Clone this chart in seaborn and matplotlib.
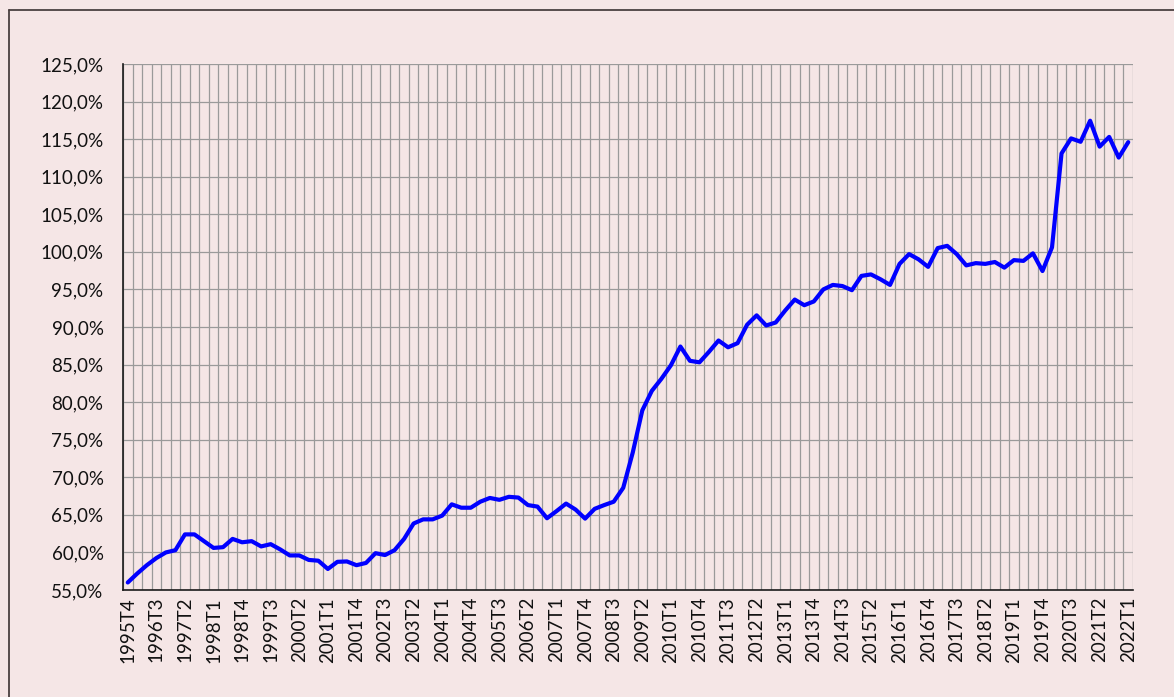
import numpy as np
import pandas as pd
import matplotlib
matplotlib.use("Agg")
import matplotlib.pyplot as plt
import seaborn as sns
from matplotlib.lines import Line2D
from matplotlib.ticker import FuncFormatter, FixedLocator

# ── Data ──────────────────────────────────────────────
# quarters from 1995T4 to 2022T1
quarters = ["1995T4"] + [f"{y}T{q}" for y in range(1996, 2022) for q in range(1, 5)] + ["2022T1"]

ratio = [
    56.0, 57.2, 58.3, 59.25, 60.0, 60.3, 62.4, 62.4, 61.5, 60.6,
    60.7, 61.8, 61.35, 61.5, 60.8, 61.1, 60.4, 59.6, 59.6, 59.0,
    58.9, 57.8, 58.75, 58.8, 58.3, 58.6, 59.9, 59.65, 60.3, 61.8,
    63.85, 64.4, 64.4, 64.9, 66.4, 65.95, 65.95, 66.75, 67.25, 67.0,
    67.4, 67.3, 66.3, 66.1, 64.55, 65.5, 66.5, 65.7, 64.5, 65.8,
    66.3, 66.75, 68.6, 73.3, 78.9, 81.5, 83.1, 84.9, 87.4, 85.5,
    85.3, 86.7, 88.2, 87.3, 87.85, 90.3, 91.55, 90.2, 90.6, 92.2,
    93.65, 92.9, 93.4, 95.0, 95.6, 95.45, 94.9, 96.8, 97.0, 96.35,
    95.6, 98.4, 99.7, 99.0, 98.0, 100.5, 100.8, 99.7, 98.2, 98.5,
    98.4, 98.65, 97.9, 98.9, 98.8, 99.8, 97.45, 100.6, 113.1, 115.1,
    114.65, 117.45, 114.0, 115.3, 112.55, 114.6,
]

BG = "#F5E6E6"
W, H = 1174, 697

df = pd.DataFrame({"idx": np.arange(len(quarters)), "quarter": quarters, "ratio": ratio})

# ── Plot ──────────────────────────────────────────────
sns.set_style("white")
plt.rcParams["font.family"] = ["Lato", "DejaVu Sans"]

fig = plt.figure(figsize=(W / 100, H / 100), dpi=100, facecolor=BG)
ax = fig.add_axes([123 / W, 1 - 590 / H, (1133 - 123) / W, (590 - 64) / H])
ax.set_facecolor(BG)

sns.lineplot(data=df, x="idx", y="ratio", color="#0000FF", linewidth=3.0, ax=ax)

n = len(quarters)
ax.set_xlim(-0.5, n - 0.5)
ax.set_ylim(55, 125)

# category boundaries as vertical grid, labels every 3 quarters
ax.xaxis.set_minor_locator(FixedLocator(np.arange(-0.5, n, 1.0)))
ax.set_xticks(df["idx"][::3])
ax.set_xticklabels(df["quarter"][::3], rotation=90, fontsize=13.5, color="#111111")
ax.set_yticks(np.arange(55, 126, 5))
ax.yaxis.set_major_formatter(FuncFormatter(lambda v, _: f"{v:.1f}%".replace(".", ",")))
ax.tick_params(axis="y", labelsize=13.5, labelcolor="#111111", length=0, pad=14)
ax.tick_params(axis="x", which="both", length=0, pad=5)

ax.grid(True, axis="x", which="minor", color="#9a9a9a", linewidth=0.9)
ax.grid(True, axis="y", which="major", color="#9a9a9a", linewidth=0.9)
ax.set_axisbelow(True)

for side in ["top", "right"]:
    ax.spines[side].set_visible(False)
for side in ["left", "bottom"]:
    ax.spines[side].set_color("#1a1a1a")
    ax.spines[side].set_linewidth(1.2)

ax.set_xlabel("")
ax.set_ylabel("")

# outer chart border (left and top visible)
bx, by = 9 / W, 1 - 10 / H
fig.add_artist(Line2D([bx, bx], [0, by], color="#4a4040", linewidth=1.3, transform=fig.transFigure))
fig.add_artist(Line2D([bx, 1], [by, by], color="#4a4040", linewidth=1.3, transform=fig.transFigure))

fig.savefig("out.png", dpi=100, facecolor=BG)
